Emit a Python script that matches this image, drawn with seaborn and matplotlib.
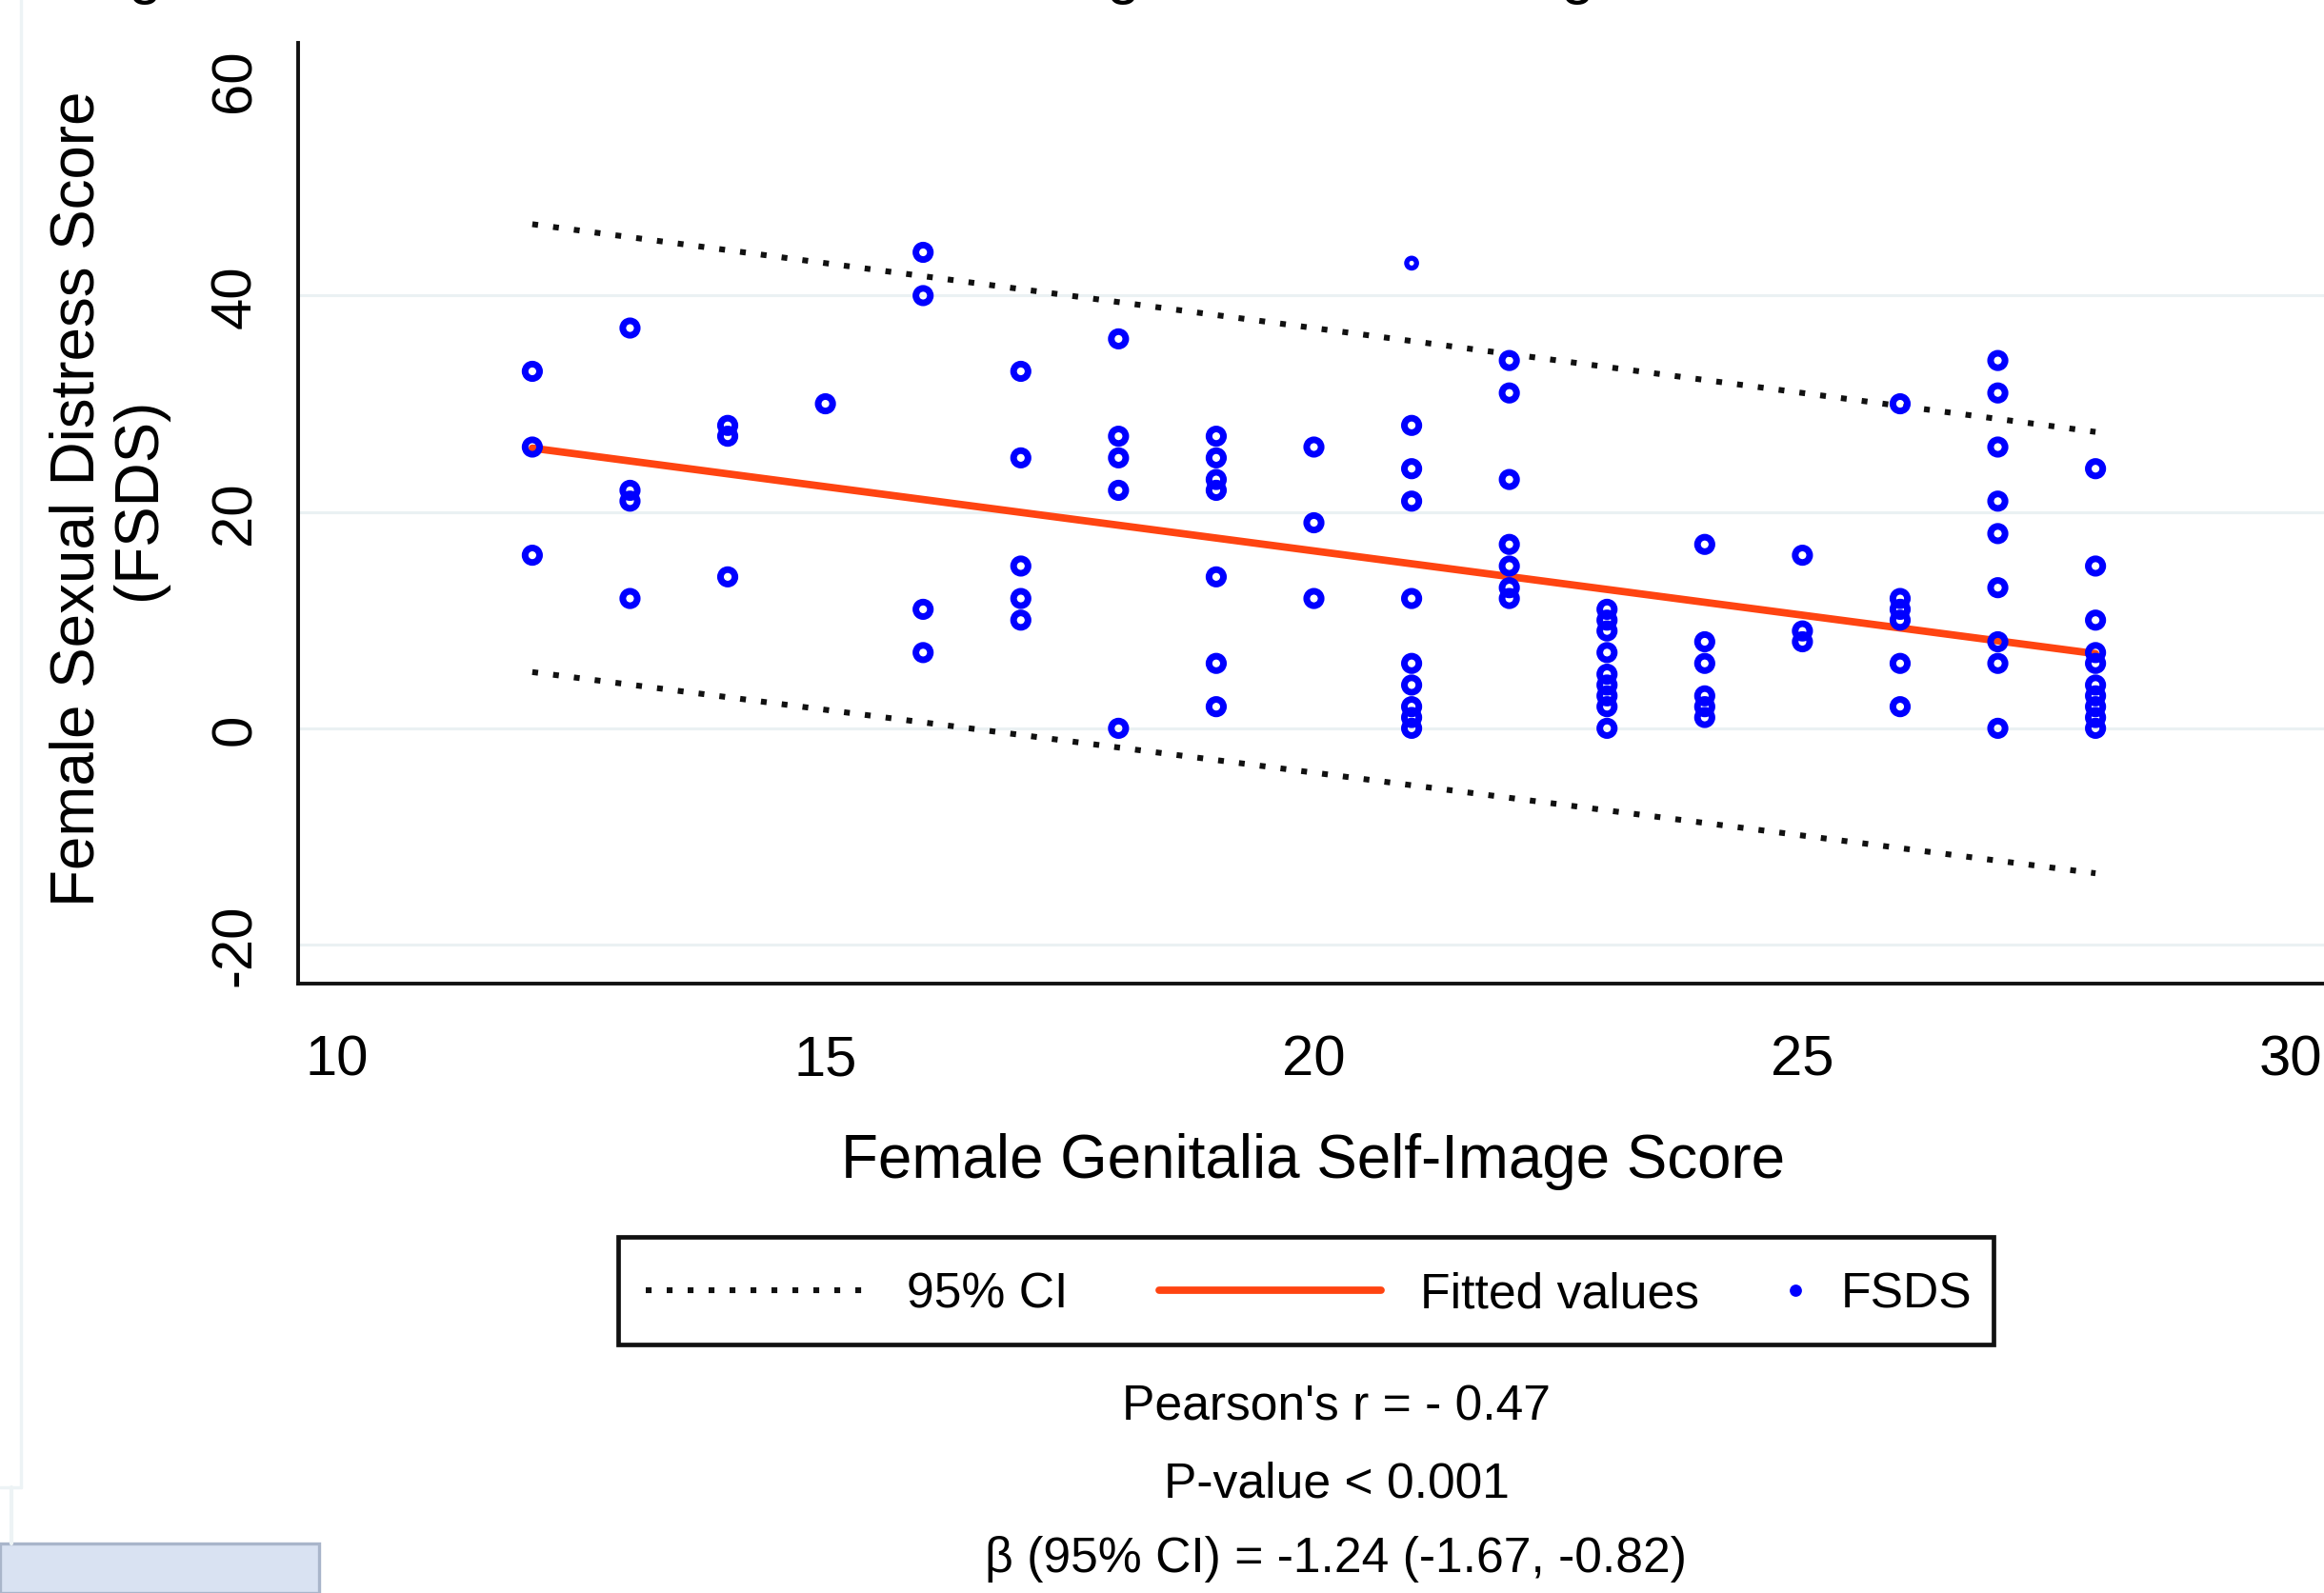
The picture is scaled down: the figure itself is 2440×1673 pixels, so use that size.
import matplotlib
matplotlib.use("Agg")
import matplotlib.pyplot as plt
from matplotlib.lines import Line2D
from matplotlib.patches import Rectangle
import seaborn as sns

# scores
gsis = [12, 12, 12,
        13, 13, 13, 13,
        14, 14, 14,
        15,
        16, 16, 16, 16,
        17, 17, 17, 17, 17,
        18, 18, 18, 18, 18,
        19, 19, 19, 19, 19, 19, 19,
        20, 20, 20,
        21, 21, 21, 21, 21, 21, 21, 21, 21,
        22, 22, 22, 22, 22, 22, 22,
        23, 23, 23, 23, 23, 23, 23, 23, 23,
        24, 24, 24, 24, 24, 24,
        25, 25, 25,
        26, 26, 26, 26, 26, 26,
        27, 27, 27, 27, 27, 27, 27, 27, 27,
        28, 28, 28, 28, 28, 28, 28, 28, 28, 28]
fsds = [33, 26, 16,
        37, 22, 21, 12,
        28, 27, 14,
        30,
        44, 40, 11, 7,
        33, 25, 15, 12, 10,
        36, 27, 25, 22, 0,
        27, 25, 23, 22, 14, 6, 2,
        26, 19, 12,
        28, 24, 21, 12, 6, 4, 2, 1, 0,
        34, 31, 23, 17, 15, 13, 12,
        11, 10, 9, 7, 5, 4, 3, 2, 0,
        17, 8, 6, 3, 2, 1,
        16, 9, 8,
        30, 12, 11, 10, 6, 2,
        34, 31, 26, 21, 18, 13, 8, 6, 0,
        24, 15, 10, 7, 6, 4, 3, 2, 1, 0]
# one point drawn with a smaller marker
small_x = [21]
small_y = [43]

fit_x = [12, 28]
fit_y = [25.9, 6.9]
ci_upper = [46.6, 27.4]
ci_lower = [5.2, -13.4]

x_ticks = [10, 15, 20, 25, 30]
y_ticks = [-20, 0, 20, 40, 60]
grid_y = [-20, 0, 20, 40]

stats_lines = ["Pearson's r = - 0.47", "P-value < 0.001", "β (95% CI) = -1.24 (-1.67, -0.82)"]

sns.set_style("white")
plt.rcParams['font.family'] = ['Liberation Sans', 'DejaVu Sans']
plt.rcParams['axes.unicode_minus'] = False
plt.rcParams['text.color'] = 'black'

W, H = 2440, 1674
fig = plt.figure(figsize=(12.2, 8.37), dpi=200)
ax = fig.add_axes([313 / W, 1 - 1034 / H, (2446 - 313) / W, (1034 - 45.6) / H])

for v in grid_y:
    ax.axhline(v, color='#eaf1f3', lw=1.1, zorder=0)

dot_style = (0, (1, 2.6))
sns.lineplot(x=fit_x, y=ci_upper, color='#111111', lw=2.2, linestyle=dot_style, ax=ax, zorder=2)
sns.lineplot(x=fit_x, y=ci_lower, color='#111111', lw=2.2, linestyle=dot_style, ax=ax, zorder=2)
sns.lineplot(x=fit_x, y=fit_y, color='#ff4411', lw=2.8, ax=ax, zorder=2)
sns.scatterplot(x=gsis, y=fsds, marker='o', s=30, facecolors='none', edgecolor='#0000ff',
                linewidth=2.5, ax=ax, zorder=3)
sns.scatterplot(x=small_x, y=small_y, marker='o', s=14, facecolors='none', edgecolor='#0000ff',
                linewidth=1.9, ax=ax, zorder=3)

ax.set_xlim(9.603, 30.397)
ax.set_ylim(-23.6, 63.4)
ax.set_xticks(x_ticks)
ax.set_yticks(y_ticks)
ax.set_xlabel('')
ax.set_ylabel('')
sns.despine(ax=ax)
for s in ['left', 'bottom']:
    ax.spines[s].set_color('#111111')
    ax.spines[s].set_linewidth(1.4)
ax.tick_params(axis='both', length=9.4, width=1.2, color='#111111', labelcolor='black',
               labelsize=21.5)
ax.tick_params(axis='x', pad=9.5)
ax.tick_params(axis='y', pad=4.3, labelrotation=90)
plt.setp(ax.get_yticklabels(), va='center')

fig.text(1379 / W, 1 - 1237 / H, 'Female Genitalia Self-Image Score', fontsize=22.9,
         ha='center', va='baseline')
fig.text(114 / W, 1 - 524 / H, 'Female Sexual Distress Score\n(FSDS)', fontsize=22.9,
         rotation=90, ha='center', va='center', multialignment='center', linespacing=1.1)

# legend: two frameless legends inside one drawn box
ci_h = Line2D([], [], color='#111111', lw=2.2, linestyle=dot_style)
fit_h = Line2D([], [], color='#ff4411', lw=2.8)
dot_h = Line2D([], [], ls='none', marker='o', markersize=3.6, color='#0000ff')
leg_y = 0.1875
fig.legend(handles=[ci_h, fit_h], labels=['95% CI', 'Fitted values'], loc='center left',
           bbox_to_anchor=(678 / W, leg_y), bbox_transform=fig.transFigure, ncol=2,
           frameon=False, borderpad=0, borderaxespad=0, handlelength=4.5,
           handletextpad=0.8, columnspacing=1.86, fontsize=18.6)
fig.legend(handles=[dot_h], labels=['FSDS'], loc='center left',
           bbox_to_anchor=(1875 / W, leg_y), bbox_transform=fig.transFigure,
           frameon=False, borderpad=0, borderaxespad=0, handlelength=0.4,
           handletextpad=0.72, fontsize=18.6)
fig.add_artist(Rectangle((649 / W, 1 - 1413 / H), (2093 - 649) / W, (1413 - 1300) / H,
                         transform=fig.transFigure, fill=False, ec='#111111', lw=1.7))

for line, yb in zip(stats_lines, [1492, 1573, 1651]):
    fig.text(1403 / W, 1 - yb / H, line, fontsize=18.6, ha='center', va='baseline')

# bits of the page around the graph (title above is cut off in the source)
for xg in [152, 1179, 1656]:
    fig.text(xg / W, 1 + 8.4 / H, 'g', fontsize=22.9, ha='center', va='baseline')
fig.add_artist(Line2D([22 / W, 22 / W], [1, 1 - 1563 / H], transform=fig.transFigure,
                      color='#edf3f5', lw=1.2))
fig.add_artist(Line2D([0, 22 / W], [1 - 1563 / H, 1 - 1563 / H], transform=fig.transFigure,
                      color='#edf3f5', lw=1.2))
fig.add_artist(Line2D([12 / W, 12 / W], [1 - 1563 / H, 1 - 1622 / H], transform=fig.transFigure,
                      color='#edf3f5', lw=1.5))
fig.add_artist(Rectangle((0, 0), 335 / W, (1674 - 1622) / H, transform=fig.transFigure,
                         fc='#d9e2f2', ec='#a9b5ca', lw=1.2))

fig.savefig('out.png', dpi=200)
